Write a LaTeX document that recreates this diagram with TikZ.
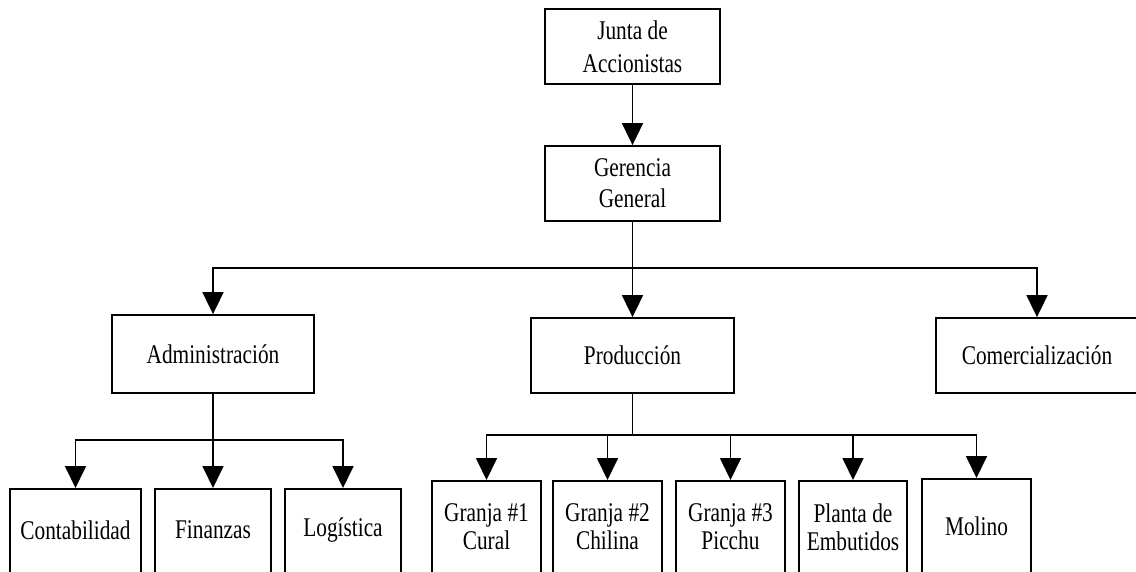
\documentclass[tikz,border=0pt]{standalone}
\usepackage{fontspec}
\setmainfont{Liberation Serif}[FakeStretch=0.79]
\usetikzlibrary{arrows.meta}
\begin{document}
\begin{tikzpicture}[x=1pt,y=-1pt,
  box/.style={draw, line width=1.8pt, inner sep=0pt, align=center},
  txt/.style={inner sep=0pt, align=center},
  ln/.style={line width=1.8pt},
  arr/.style={line width=1.8pt, -{Triangle[width=21pt,length=22pt]}},
  font=\fontsize{27}{33}\selectfont]
\useasboundingbox (0,0) rectangle (1136,572);
\fill[white] (0,0) rectangle (1136,572);
\clip (0,0) rectangle (1136,572);

% top levels
\node[box, minimum width=175pt, minimum height=75pt] (junta) at (632.5,46.5) {Junta de\\Accionistas};
\node[box, minimum width=175pt, minimum height=75pt, font=\fontsize{27}{31}\selectfont] (ger) at (632.5,183.5) {Gerencia\\General};

% departments
\node[box, minimum width=202pt, minimum height=78pt] (admin) at (213,354) {Administración};
\node[box, minimum width=203pt, minimum height=75pt] (prod) at (632.5,355.5) {Producción};
\node[box, minimum width=202pt, minimum height=75pt] (com) at (1037,355.5) {Comercialización};

% units under Administración
\node[box, minimum width=131pt, minimum height=120pt, anchor=north] (cont) at (75.5,488) {};
\node[box, minimum width=116pt, minimum height=120pt, anchor=north] (fin) at (213,488) {};
\node[box, minimum width=116pt, minimum height=120pt, anchor=north] (logi) at (343,488) {};
\node[txt] (tcont) at (75.5,530) {Contabilidad};
\node[txt] (tfin) at (213,530) {Finanzas};
\node[txt] (tlogi) at (343,530) {Logística};

% units under Producción
\begin{scope}[font=\fontsize{27}{28}\selectfont]
\node[box, minimum width=109pt, minimum height=120pt, anchor=north] (g1) at (486.5,480) {};
\node[box, minimum width=109pt, minimum height=120pt, anchor=north] (g2) at (607.5,480) {};
\node[box, minimum width=109pt, minimum height=120pt, anchor=north] (g3) at (730.5,480) {};
\node[box, minimum width=108pt, minimum height=120pt, anchor=north] (planta) at (853,480) {};
\node[box, minimum width=109pt, minimum height=120pt, anchor=north] (mol) at (976.5,478) {};
\node[txt] (tg1) at (486.5,527) {Granja \#1\\Cural};
\node[txt] (tg2) at (607.5,527) {Granja \#2\\Chilina};
\node[txt] (tg3) at (730.5,527) {Granja \#3\\Picchu};
\node[txt] (tplanta) at (853,527) {Planta de\\Embutidos};
\node[txt] (tmol) at (976.5,526) {Molino};
\end{scope}

% connectors
\coordinate (b1) at (632.5,268);
\coordinate (b2) at (213,440);
\coordinate (b3) at (632.5,435);

\draw[arr] (junta.south) -- (ger.north);
\draw[arr] (ger.south) -- (prod.north);
\draw[arr] (b1) -| (admin.north);
\draw[arr] (b1) -| (com.north);

\draw[arr] (admin.south) -- (fin.north);
\draw[arr] (b2) -| (cont.north);
\draw[arr] (b2) -| (logi.north);

\draw[ln] (prod.south) -- (b3);
\draw[arr] (b3) -| (g1.north);
\draw[arr] (b3) -| (g2.north);
\draw[arr] (b3) -| (g3.north);
\draw[arr] (b3) -| (planta.north);
\draw[arr] (b3) -| (mol.north);
\end{tikzpicture}
\end{document}
